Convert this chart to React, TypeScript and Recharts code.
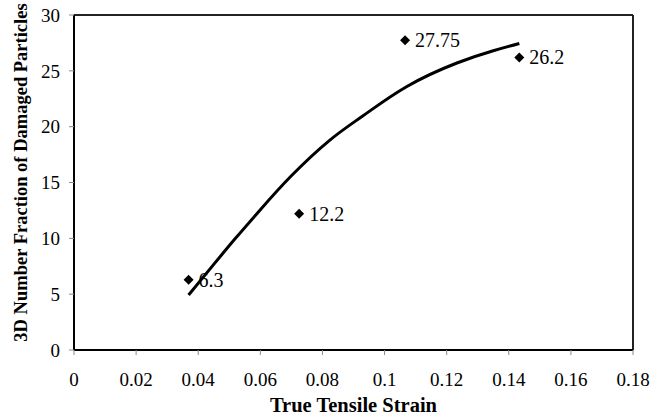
import React from 'react';
import { ComposedChart, Line, Scatter, XAxis, YAxis, LabelList, CartesianGrid } from 'recharts';

const strain = [0.0369, 0.0725, 0.1066, 0.1434];
const fraction = [6.3, 12.2, 27.75, 26.2];
const pointLabels = ['6.3', '12.2', '27.75', '26.2'];

const fitStrain = [0.0369, 0.0448, 0.052, 0.0598, 0.07, 0.0824, 0.0932, 0.1072, 0.1233, 0.135, 0.1434];
const fitFraction = [4.93, 7.6, 10.0, 12.5, 15.6, 18.8, 21.0, 23.6, 25.7, 26.8, 27.45];

const xTicks = [0, 0.02, 0.04, 0.06, 0.08, 0.1, 0.12, 0.14, 0.16, 0.18];
const yTicks = [0, 5, 10, 15, 20, 25, 30];
const xMax = 0.18;
const yMax = 30;

const points = strain.map((x, i) => ({ x, y: fraction[i], label: pointLabels[i] }));
const fit = fitStrain.map((x, i) => ({ x, y: fitFraction[i] }));

const FONT = 'Liberation Serif';

const Diamond = (props: any) => {
  const { cx, cy } = props;
  const r = 5;
  return (
    <polygon
      points={`${cx},${cy - r} ${cx + r},${cy} ${cx},${cy + r} ${cx - r},${cy}`}
      fill="#000"
    />
  );
};

const YTitle = (props: any) => {
  const vb = props.viewBox || {};
  const cy = vb.y + vb.height / 2 - 10;
  return (
    <text
      x={27}
      y={cy}
      transform={`rotate(-90, 27, ${cy})`}
      textAnchor="middle"
      fontFamily={FONT}
      fontWeight="bold"
      fontSize={18.5}
      fill="#000"
    >
      3D Number Fraction of Damaged Particles
    </text>
  );
};

// Frame lines along the top and right edges of the plotting area, from the chart's own offset.
const topFrame = (args: any) => (args && args.offset ? [args.offset.top] : []);
const rightFrame = (args: any) =>
  args && args.offset ? [args.offset.left + args.offset.width] : [];

const tickFmt = (v: number) => String(v);

export default function App() {
  return (
    <div style={{ position: 'absolute', left: 0, top: 0, background: '#fff' }}>
      <ComposedChart
        width={663}
        height={420}
        margin={{ top: 15, right: 30, bottom: 8, left: 14 }}
      >
        <CartesianGrid
          horizontalCoordinatesGenerator={topFrame}
          verticalCoordinatesGenerator={rightFrame}
          stroke="#222"
          strokeWidth={2}
        />
        <XAxis
          type="number"
          dataKey="x"
          domain={[0, xMax]}
          ticks={xTicks}
          tickFormatter={tickFmt}
          height={62}
          tickSize={5}
          tickMargin={18}
          axisLine={{ stroke: '#000', strokeWidth: 2 }}
          tickLine={{ stroke: '#888' }}
          tick={{ fontFamily: FONT, fontSize: 19, fill: '#000' }}
          label={{
            value: 'True Tensile Strain',
            position: 'insideBottom',
            offset: 0,
            fontFamily: FONT,
            fontWeight: 'bold',
            fontSize: 20.5,
            fill: '#000',
          }}
        />
        <YAxis
          type="number"
          dataKey="y"
          domain={[0, yMax]}
          ticks={yTicks}
          width={60}
          tickSize={5}
          tickMargin={9}
          axisLine={{ stroke: '#000', strokeWidth: 2 }}
          tickLine={{ stroke: '#888' }}
          tick={{ fontFamily: FONT, fontSize: 19, fill: '#000' }}
          label={<YTitle />}
        />
        <Line
          data={fit}
          dataKey="y"
          type="natural"
          stroke="#000"
          strokeWidth={3}
          dot={false}
          activeDot={false}
          isAnimationActive={false}
        />
        <Scatter data={points} dataKey="y" shape={<Diamond />} isAnimationActive={false}>
          <LabelList
            dataKey="label"
            content={(p: any) => (
              <text
                x={p.x + p.width / 2 + 10}
                y={p.y + p.height / 2}
                dy="0.35em"
                textAnchor="start"
                fontFamily={FONT}
                fontSize={20}
                fill="#000"
              >
                {p.value}
              </text>
            )}
          />
        </Scatter>
      </ComposedChart>
    </div>
  );
}
